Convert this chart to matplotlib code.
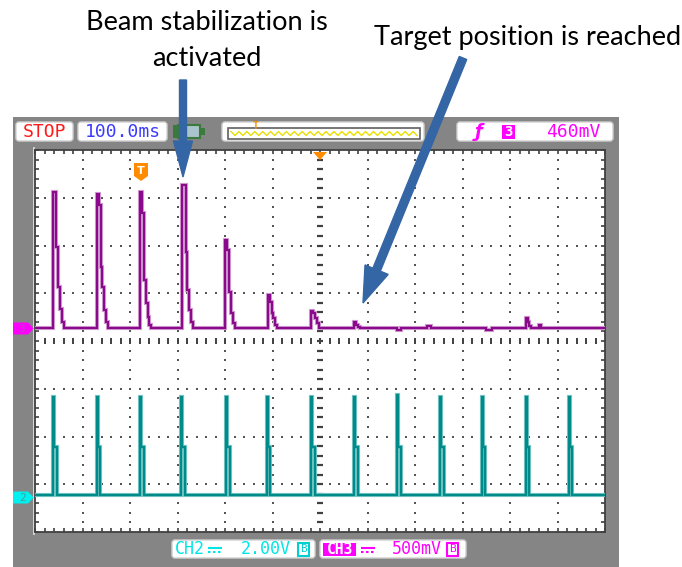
import matplotlib
matplotlib.use('Agg')
import matplotlib.pyplot as plt
from matplotlib.patches import FancyBboxPatch, Rectangle, Polygon, FancyArrow
import numpy as np

# ---------------- data (screen divisions: x 0..12, y -4..4) ----------------
time_per_div = "100.0ms"
ch2_scale = "2.00V"
ch3_scale = "500mV"
trigger_level = "460mV"

ch3_baseline = 0.28
ch3_onsets = [0.37, 1.30, 2.21, 3.09, 4.00, 4.90, 5.81, 6.72, 7.62, 8.25, 9.50, 10.33, 10.62]
ch3_levels = [
    [2.83, 2.83, 1.69, 0.86, 0.40, 0.12],
    [2.79, 2.57, 1.27, 0.86, 0.37, 0.12],
    [2.83, 2.40, 1.00, 0.51, 0.23, 0.05],
    [2.99, 2.99, 1.59, 0.79, 0.37, 0.12],
    [1.83, 1.62, 0.75, 0.30, 0.09],
    [0.68, 0.54, 0.30, 0.20, 0.05],
    [0.35, 0.30, 0.20, 0.09],
    [0.12, 0.06, 0.02],
    [-0.05, -0.05],
    [0.03, 0.03],
    [-0.06, -0.06, -0.06],
    [0.21, 0.12, 0.04],
    [0.05],
]
ch3_step = 0.04

ch2_baseline = -3.23
ch2_onsets = [0.385, 1.30, 2.21, 3.08, 4.02, 4.88, 5.81, 6.72, 7.62, 8.53, 9.40, 10.33, 11.24]
ch2_peaks = [2.05, 2.05, 2.05, 2.05, 2.05, 2.05, 2.05, 2.05, 2.09, 2.05, 2.05, 2.05, 2.05]
ch2_mid = [1.02] * 13
ch2_step = 0.025

label_left = ["Beam stabilization is", "activated"]
label_right = "Target position is reached"

# ---------------- figure ----------------
W, H = 682, 567
fig = plt.figure(figsize=(W / 100, H / 100), dpi=100)

bg = fig.add_axes([0, 0, 1, 1], zorder=0)
bg.set_xlim(0, W); bg.set_ylim(H, 0); bg.axis('off')

# gray scope panel
bg.add_patch(Rectangle((13, 117), 606, 450, facecolor='#858585', edgecolor='none'))

def box(ax, x0, y0, x1, y1, fc='white', ec='#d0d0d0', r=3, lw=1.0, z=2):
    ax.add_patch(FancyBboxPatch((x0 + r, y0 + r), (x1 - x0) - 2 * r, (y1 - y0) - 2 * r,
                                boxstyle=f"round,pad={r}", facecolor=fc, edgecolor=ec,
                                linewidth=lw, zorder=z))

def dc_symbol(ax, xc, yc, color, w=14):
    # DC coupling sign: solid line over dashed line
    ax.plot([xc - w / 2, xc + w / 2], [yc - 2, yc - 2], color=color, lw=1.5, zorder=4,
            solid_capstyle='butt')
    ax.plot([xc - w / 2, xc + w / 2], [yc + 2, yc + 2], color=color, lw=1.5, zorder=4,
            dashes=(1.2, 1.2))

mono = 'DejaVu Sans Mono'
# header
box(bg, 16, 122, 73, 141)
bg.text(45, 132, "STOP", color='#ff1a1a', fontsize=13, family=mono, ha='center', va='center')
box(bg, 78, 122, 167, 141)
bg.text(122.5, 132, time_per_div, color='#3b3bff', fontsize=13, family=mono, ha='center', va='center')
# battery
bg.add_patch(Rectangle((173, 125), 5, 13, facecolor='#3a7a3a', edgecolor='none', zorder=2))
bg.add_patch(Rectangle((178, 125), 22, 13, facecolor='#a9c4cc', edgecolor='#3a7a3a', lw=1.5, zorder=2))
bg.add_patch(Rectangle((200, 128), 5, 7, facecolor='#3a7a3a', edgecolor='none', zorder=2))
# memory bar
box(bg, 222, 122, 424, 141)
bg.add_patch(Rectangle((228, 128), 192, 11, facecolor='white', edgecolor='#606060', lw=1.2, zorder=3))
zx = np.linspace(231, 417, 48)
zy = np.where(np.arange(48) % 2 == 0, 131.5, 135.5)
bg.plot(zx, zy, color='#e8e000', lw=1.0, zorder=4)
bg.text(256, 126, "T", color='#ff8c00', fontsize=7, family=mono, ha='center', va='center',
        fontweight='bold', zorder=5)
# trigger info
box(bg, 457, 122, 613, 141)
bg.text(479, 132, "ƒ", color='#ff00ff', fontsize=13, family='DejaVu Sans', ha='center',
        va='center', fontweight='bold', fontstyle='italic')
bg.add_patch(Rectangle((502, 124.5), 13, 14.5, facecolor='#ff00ff', edgecolor='none', zorder=3))
bg.text(508.5, 132, "3", color='white', fontsize=10, family=mono, ha='center', va='center',
        fontweight='bold', zorder=4)
bg.text(573, 132, trigger_level, color='#ff00ff', fontsize=13, family=mono, ha='center', va='center')

# bottom channel boxes
box(bg, 172, 540, 315, 558)
bg.text(190, 549.5, "CH2", color='#00e5e5', fontsize=12, family=mono, ha='center', va='center')
dc_symbol(bg, 215, 549.5, '#00e5e5')
bg.text(266, 549.5, ch2_scale, color='#00e5e5', fontsize=12, family=mono, ha='center', va='center')
bg.add_patch(Rectangle((298, 543), 11, 13, facecolor='white', edgecolor='#00d0d0', lw=1.5, zorder=3))
bg.text(303.5, 549.5, "B", color='#00d0d0', fontsize=8, family=mono, ha='center', va='center', zorder=4)
box(bg, 320, 540, 466, 558)
bg.add_patch(Rectangle((323, 543), 33, 13, facecolor='#ff00ff', edgecolor='none', zorder=3))
bg.text(339.5, 549.5, "CH3", color='white', fontsize=10.5, family=mono, ha='center', va='center',
        fontweight='bold', zorder=4)
dc_symbol(bg, 368, 549.5, '#ff00ff')
bg.text(417, 549.5, ch3_scale, color='#ff00ff', fontsize=12, family=mono, ha='center', va='center')
bg.add_patch(Rectangle((447, 543), 11, 13, facecolor='white', edgecolor='#ff00ff', lw=1.5, zorder=3))
bg.text(452.5, 549.5, "B", color='#ff00ff', fontsize=8, family=mono, ha='center', va='center', zorder=4)

# light strip left of grid
bg.plot([33.5, 33.5], [148, 534], color='#e8e8e8', lw=1.2)

# ---------------- scope screen ----------------
L, T, R, B = 35, 150, 605, 532
ax = fig.add_axes([L / W, (H - B) / H, (R - L) / W, (B - T) / H], zorder=5)
ax.set_xlim(0, 12); ax.set_ylim(-4, 4)
ax.set_facecolor('white')
for s in ax.spines.values():
    s.set_color('#404040'); s.set_linewidth(1.3)
ax.set_xticks(np.arange(0, 12.01, 0.2)); ax.set_yticks(np.arange(-4, 4.01, 0.2))
ax.tick_params(direction='in', length=3, width=1.2, color='#404040', top=True, right=True,
               labelbottom=False, labelleft=False)

fine_x = np.arange(0.2, 12.0, 0.2)
fine_y = np.arange(-3.8, 4.0, 0.2)
dot = '#555555'
for gx in range(1, 12):
    if gx == 6:
        continue
    ax.scatter(np.full_like(fine_y, gx), fine_y, marker='s', s=1.6, color=dot, linewidths=0, zorder=1)
for gy in range(-3, 4):
    if gy == 0:
        continue
    ax.scatter(fine_x, np.full_like(fine_x, gy), marker='s', s=1.6, color=dot, linewidths=0, zorder=1)
ax.plot(np.full_like(fine_y, 6), fine_y, ls='none', marker='_', ms=4.5, mew=1.6, color='#404040', zorder=1)
ax.plot(fine_x, np.zeros_like(fine_x), ls='none', marker='|', ms=4.5, mew=1.4, color='#404040', zorder=1)

def build(onsets, levels, base, step):
    xs, ys = [0.0], [base]
    for x0, lv in zip(onsets, levels):
        xs.append(x0); ys.append(base)
        x = x0
        for v in lv:
            xs.append(x); ys.append(base + v)
            x += step
            xs.append(x); ys.append(base + v)
        xs.append(x); ys.append(base)
    xs.append(12.0); ys.append(base)
    return xs, ys

x3, y3 = build(ch3_onsets, ch3_levels, ch3_baseline, ch3_step)
ax.plot(x3, y3, color='#d3a3d3', lw=3.0, zorder=3, solid_joinstyle='miter')
ax.plot(x3, y3, color='#8b0a8b', lw=1.6, zorder=4, solid_joinstyle='miter')

ch2_levels = [[p, m, m] for p, m in zip(ch2_peaks, ch2_mid)]
x2, y2 = build(ch2_onsets, ch2_levels, ch2_baseline, ch2_step)
ax.plot(x2, y2, color='#86cccc', lw=3.0, zorder=3, solid_joinstyle='miter')
ax.plot(x2, y2, color='#008b8b', lw=1.7, zorder=4, solid_joinstyle='miter')

# ---------------- overlay (markers, arrows, labels) ----------------
fg = fig.add_axes([0, 0, 1, 1], zorder=10)
fg.set_xlim(0, W); fg.set_ylim(H, 0); fg.axis('off'); fg.patch.set_alpha(0)

# channel markers
fg.add_patch(Polygon([(13, 322.5), (28, 322.5), (33.5, 328.5), (28, 334.5), (13, 334.5)],
                     closed=True, facecolor='#ff00ff', edgecolor='none'))
fg.text(22, 328.8, "3", color='#c040c0', fontsize=8, family=mono, ha='center', va='center')
fg.add_patch(Polygon([(13, 491.5), (28, 491.5), (33.5, 497.5), (28, 503.5), (13, 503.5)],
                     closed=True, facecolor='#00f0f0', edgecolor='none'))
fg.text(22, 497.8, "2", color='#40a0a0', fontsize=8, family=mono, ha='center', va='center')
# trigger position marker
fg.add_patch(Polygon([(134, 163), (148, 163), (148, 176), (141, 181), (134, 176)],
                     closed=True, facecolor='#ff8c00', edgecolor='none'))
fg.text(141, 171, "T", color='white', fontsize=8, family='DejaVu Sans', ha='center', va='center',
        fontweight='bold')
fg.add_patch(Polygon([(313, 152), (327, 152), (320, 160)], closed=True, facecolor='#ff8c00',
                     edgecolor='none'))

# arrows
blue = '#3465a4'
fg.add_patch(FancyArrow(183, 80, 0, 97, width=7, head_width=19, head_length=36,
                        length_includes_head=True, color=blue, zorder=20))
fg.add_patch(FancyArrow(463, 58, -100, 245, width=8, head_width=25, head_length=36,
                        length_includes_head=True, color=blue, zorder=20))

# labels
fg.text(207, 23, label_left[0], fontsize=19.5, family='Lato', ha='center', va='center')
fg.text(207, 59, label_left[1], fontsize=19.5, family='Lato', ha='center', va='center')
fg.text(528, 37, label_right, fontsize=19.5, family='Lato', ha='center', va='center')

fig.savefig('out.png', dpi=100)
